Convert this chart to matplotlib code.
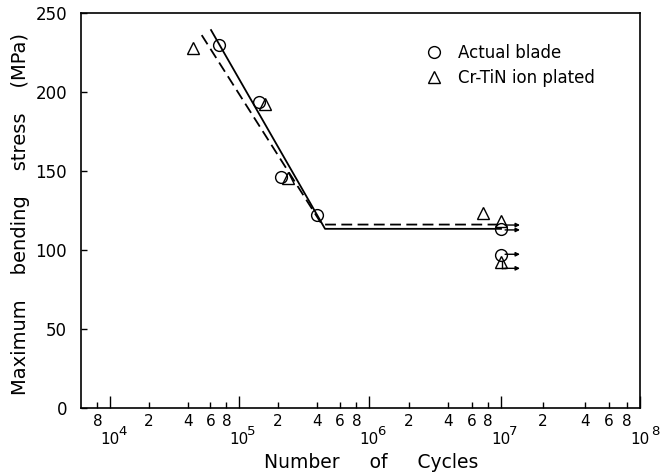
import numpy as np
import matplotlib
matplotlib.use('Agg')
import matplotlib.pyplot as plt

# Data
# Actual blade (circles)
blade_N = [7.0e4, 1.43e5, 2.09e5, 3.96e5, 1.0e7, 1.0e7]
blade_S = [230, 193.5, 146, 122, 113, 96.8]

# Cr-TiN ion plated (triangles)
crtin_N = [4.38e4, 1.58e5, 2.39e5, 7.35e6, 1.0e7, 1.0e7]
crtin_S = [227.8, 192.4, 145.4, 123.2, 118.5, 92.6]

# S-N curves
blade_line_N = [6.07e4, 4.59e5, 1.0e7]
blade_line_S = [239.2, 113.4, 113.4]
crtin_line_N = [5.14e4, 4.35e5, 9.5e6]
crtin_line_S = [236.0, 116.1, 116.1]

# run-outs (no failure)
runout_S = [115.8, 112.7, 97.3, 88.4]
runout_N0 = 1.07e7
runout_N1 = 1.37e7

# hand drawn log axis: decades are not all the same width
dec_log = [3, 4, 5, 6, 7, 8, 9]
dec_pos = [-19, 110, 239, 369, 501, 640, 779]


def fwd(x):
    x = np.clip(np.asarray(x, dtype=float), 1e-300, None)
    return np.interp(np.log10(x), dec_log, dec_pos)


def inv(p):
    return 10 ** np.interp(p, dec_pos, dec_log)


fig = plt.figure(figsize=(6.68, 4.76), dpi=100)
ax = fig.add_axes([81 / 668, 1 - 408 / 476, 559 / 668, 395 / 476])
ax.set_xscale('function', functions=(fwd, inv))

ax.plot(blade_line_N, blade_line_S, '-k', linewidth=1.3)
ax.plot(crtin_line_N, crtin_line_S, '--k', linewidth=1.3, dashes=(6, 3))

ax.plot(blade_N, blade_S, 'o', color='k', markerfacecolor='none',
        markersize=8.5, markeredgewidth=1.0, label='Actual blade')
ax.plot(crtin_N, crtin_S, '^', color='k', markerfacecolor='none',
        markersize=8.5, markeredgewidth=1.0, label='Cr-TiN ion plated')

# run-out arrows
for s in runout_S:
    ax.annotate('', xy=(runout_N1, s), xytext=(runout_N0, s),
                arrowprops=dict(arrowstyle='-|>', color='k', lw=1.0,
                                mutation_scale=6, shrinkA=0, shrinkB=0))
ax.plot([1.01e7, 1.01e7], [92.6, 88.4], '-k', linewidth=1.0)
ax.plot([1.01e7, runout_N0], [88.4, 88.4], '-k', linewidth=1.0)

ax.set_xlim(inv(81), inv(640))
ax.set_ylim(0, 250)

# ticks
major = [1e4, 1e5, 1e6, 1e7, 1e8]
minor = [8e3]
for d in [1e4, 1e5, 1e6, 1e7]:
    minor += [2 * d, 4 * d, 6 * d, 8 * d]
ax.set_xticks(major)
ax.set_xticks(minor, minor=True)
ax.set_xticklabels([])
ax.set_xticklabels([], minor=True)
ax.tick_params(axis='x', which='major', direction='in', length=8.5, width=1.0)
ax.tick_params(axis='x', which='minor', direction='in', length=4.5, width=1.0)
ax.set_yticks([0, 50, 100, 150, 200, 250])
ax.tick_params(axis='y', direction='in', length=4.5, width=1.0, labelsize=12, pad=10)

for n in minor:
    ax.annotate(str(int(round(n / 10 ** np.floor(np.log10(n))))), xy=(n, 0),
                xycoords=('data', 'axes fraction'), xytext=(0, -10),
                textcoords='offset points', ha='center', va='center', fontsize=11)
for n in major:
    e = int(round(np.log10(n)))
    ax.annotate('10', xy=(n, 0), xycoords=('data', 'axes fraction'),
                xytext=(0, -22.5), textcoords='offset points',
                ha='center', va='center', fontsize=11)
    ax.annotate(str(e), xy=(n, 0), xycoords=('data', 'axes fraction'),
                xytext=(9 if e < 8 else 11, -17), textcoords='offset points',
                ha='center', va='center', fontsize=9.5)

for sp in ax.spines.values():
    sp.set_linewidth(1.2)

ax.set_xlabel('Number     of     Cycles', fontsize=13.5)
ax.xaxis.set_label_coords(0.519, -0.115)
ax.set_ylabel('Maximum    bending    stress    (MPa)', fontsize=14)
ax.yaxis.set_label_coords(-0.092, 0.49)

ax.legend(loc='upper left', bbox_to_anchor=(0.59, 0.96), frameon=False,
          fontsize=12, handlelength=1.0, handletextpad=0.95, labelspacing=0.45,
          numpoints=1)

plt.savefig('out.png', dpi=100)
